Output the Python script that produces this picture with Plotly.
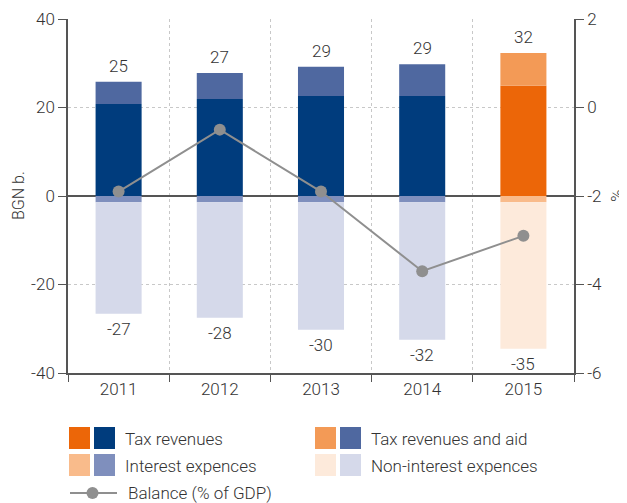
import plotly.graph_objects as go

# BGN b. (left axis) and % of GDP (right axis)
years = ["2011", "2012", "2013", "2014", "2015"]
tax_revenues = [20.8, 21.9, 22.6, 22.6, 24.9]
tax_and_aid = [5.0, 5.9, 6.6, 7.2, 7.4]
interest_exp = [-1.4, -1.4, -1.4, -1.4, -1.4]
non_interest_exp = [-25.2, -26.1, -28.8, -31.1, -33.1]
balance = [-1.9, -0.5, -1.9, -3.7, -2.9]
revenue_labels = ["25", "27", "29", "29", "32"]
expense_labels = ["-27", "-28", "-30", "-32", "-35"]
is_projection = [False, False, False, False, True]
left_ticks = [-40, -20, 0, 20, 40]
left_ticktext = ["-40", "-20", "0", "20", "40"]
right_ticks = [-6, -4, -2, 0, 2]
right_ticktext = ["-6", "-4", "-2", "0", "2"]

blues = ["#003c7d", "#4f68a0", "#7f8fbd", "#d5d9ea"]
oranges = ["#ec6608", "#f39a56", "#f9bb8b", "#fdeadb"]

FONT = "Roboto"
WEIGHT = 300
TXT = "#333333"
AX = "#555555"

# the page body adds an 8px margin, so the figure is drawn 8px in
OFF = 8
W, H = 627 - OFF, 503 - OFF
# plot area in page pixels: x 68..574, y 19..373
L, R, T, B = 68, 574, 19, 373


def colors_for(i):
    return [oranges[i] if p else blues[i] for p in is_projection]


def px(x):
    return (x - L) / (R - L)


def py(y):
    return (B - y) / (B - T)


def fnt(size=17):
    return dict(family=FONT, size=size, color=TXT, weight=WEIGHT)


fig = go.Figure()
for i, vals in enumerate([tax_revenues, tax_and_aid, interest_exp, non_interest_exp]):
    fig.add_trace(go.Bar(
        x=years, y=vals,
        marker=dict(color=colors_for(i), line=dict(width=0)),
        width=0.455, showlegend=False, hoverinfo="skip"
    ))

fig.add_trace(go.Scatter(
    x=years, y=balance, yaxis="y2", mode="lines+markers",
    line=dict(color="#8f8f8f", width=2),
    marker=dict(color="#8f8f8f", size=12),
    showlegend=False
))

annotations = []
for k, yr in enumerate(years):
    top = tax_revenues[k] + tax_and_aid[k]
    bottom = interest_exp[k] + non_interest_exp[k]
    annotations.append(dict(x=k, y=top, text=revenue_labels[k], showarrow=False,
                            yanchor="bottom", yshift=4, font=fnt()))
    annotations.append(dict(x=k, y=bottom, text=expense_labels[k], showarrow=False,
                            yanchor="top", yshift=-3, font=fnt()))

# axis titles
annotations.append(dict(xref="paper", yref="paper", x=px(18), y=0.5, text="BGN b.",
                        textangle=-90, showarrow=False, xanchor="center",
                        yanchor="middle", font=fnt(16)))
annotations.append(dict(xref="paper", yref="paper", x=px(617), y=0.5, text="%",
                        textangle=-90, showarrow=False, xanchor="center",
                        yanchor="middle", font=fnt(17)))

# custom legend (two swatches per entry)
shapes = []
legend_rows = [
    (69, 427, 0, "Tax revenues"),
    (315, 427, 1, "Tax revenues and aid"),
    (69, 454, 2, "Interest expences"),
    (315, 454, 3, "Non-interest expences"),
]
for x0, y0, ci, label in legend_rows:
    for j, col in enumerate([oranges[ci], blues[ci]]):
        xs = x0 + j * 25
        shapes.append(dict(type="rect", xref="paper", yref="paper",
                           x0=px(xs), x1=px(xs + 21), y0=py(y0), y1=py(y0 + 22),
                           fillcolor=col, line=dict(width=0)))
    annotations.append(dict(xref="paper", yref="paper", x=px(x0 + 54), y=py(y0 + 12),
                            text=label, showarrow=False, xanchor="left", yanchor="middle",
                            font=fnt()))
shapes.append(dict(type="line", xref="paper", yref="paper",
                   x0=px(70), x1=px(117), y0=py(493), y1=py(493),
                   line=dict(color="#8f8f8f", width=2)))
shapes.append(dict(type="circle", xref="paper", yref="paper",
                   x0=px(86.5), x1=px(98.5), y0=py(487), y1=py(499),
                   fillcolor="#8f8f8f", line=dict(width=0)))
annotations.append(dict(xref="paper", yref="paper", x=px(126), y=py(493),
                        text="Balance (% of GDP)", showarrow=False, xanchor="left",
                        yanchor="middle", font=fnt()))

fig.update_layout(
    width=W, height=H,
    margin=dict(l=L - OFF, r=W - (R - OFF), t=T - OFF, b=H - (B - OFF), autoexpand=False),
    paper_bgcolor="white", plot_bgcolor="white",
    barmode="relative",
    font=fnt(),
    showlegend=False,
    xaxis=dict(
        type="category", range=[-0.5, 4.5], tickson="boundaries", ticks="outside",
        ticklen=7, tickcolor=AX, showline=True, linecolor=AX, linewidth=1.5,
        showgrid=True, gridcolor="#c8c8c8", griddash="dot", gridwidth=1,
        tickangle=0, tickfont=fnt()
    ),
    yaxis=dict(
        range=[-40, 40], tickvals=left_ticks, ticktext=left_ticktext,
        ticks="outside", ticklen=8, tickcolor=AX,
        showline=True, linecolor=AX, linewidth=1.5,
        showgrid=True, gridcolor="#c8c8c8", griddash="dot", gridwidth=1,
        zeroline=True, zerolinecolor=AX, zerolinewidth=1.5,
        tickfont=fnt()
    ),
    yaxis2=dict(
        range=[-6, 2], tickvals=right_ticks, ticktext=right_ticktext,
        overlaying="y", side="right", ticks="outside",
        ticklen=8, tickcolor=AX, showline=True, linecolor=AX, linewidth=1.5,
        showgrid=False, zeroline=False, tickfont=fnt()
    ),
    annotations=annotations,
    shapes=shapes,
)

fig.write_html("out.html")
